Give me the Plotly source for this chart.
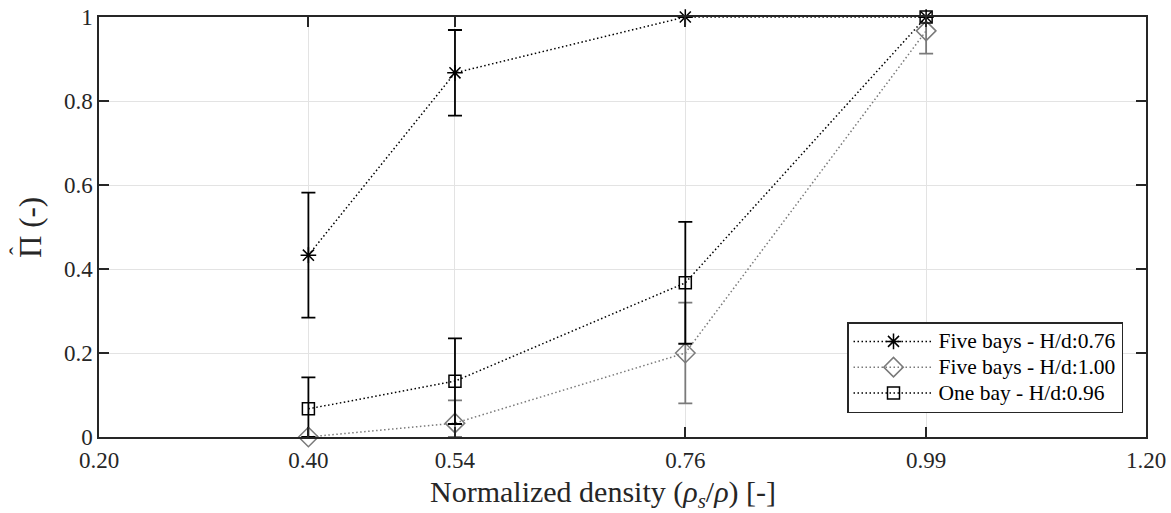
import plotly.graph_objects as go

# ---- data ----
density = [0.40, 0.54, 0.76, 0.99]

five_076 = [0.433, 0.867, 1.0, 1.0]
five_076_err = [0.149, 0.102, 0.0, 0.0]

five_100 = [0.0, 0.033, 0.2, 0.967]
five_100_err = [0.0, 0.054, 0.12, 0.054]

one_096 = [0.067, 0.133, 0.367, 1.0]
one_096_err = [0.075, 0.102, 0.145, 0.0]

x_tickvals = [0.20, 0.40, 0.54, 0.76, 0.99, 1.20]
x_ticktext = ["0.20", "0.40", "0.54", "0.76", "0.99", "1.20"]
y_tickvals = [0, 0.2, 0.4, 0.6, 0.8, 1]
y_ticktext = ["0", "0.2", "0.4", "0.6", "0.8", "1"]

names = ["Five bays - H/d:0.76", "Five bays - H/d:1.00", "One bay - H/d:0.96"]
x_title = "Normalized density (<i>ρ<sub>s</sub></i>/<i>ρ</i>) [-]"
y_title = "Π (-)"
y_title_hat = "ˆ"

FONT = "Liberation Serif"
DARK = "#262626"
GRAY = "#7a7a7a"

W, H = 1171, 513
ML, MR, MT, MB = 99, 25, 17, 76
PW = W - ML - MR
PH = H - MT - MB


def px(x):  # page pixel -> paper fraction
    return (x - ML) / PW


def py(y):
    return (MT + PH - y) / PH


def err_plus(vals, errs):
    return [None if e == 0 else min(e, 1.0 - v) for v, e in zip(vals, errs)]


def err_minus(vals, errs):
    return [None if e == 0 else min(e, v) for v, e in zip(vals, errs)]


fig = go.Figure()

series = [
    (five_076, five_076_err, names[0], "black", "asterisk-open", 13),
    (five_100, five_100_err, names[1], GRAY, "diamond-open", 15),
    (one_096, one_096_err, names[2], "black", "square-open", 12),
]

for vals, errs, name, col, sym, size in series:
    fig.add_trace(go.Scatter(
        x=density, y=vals, mode="lines+markers",
        name="<span style='font-size:21.5px'>%s</span>" % name,
        line=dict(color=col, width=1.5, dash="1.5px,2.5px"),
        marker=dict(symbol=sym, size=size, color=col,
                    line=dict(color=col, width=1.5)),
        error_y=dict(type="data", symmetric=False,
                     array=err_plus(vals, errs),
                     arrayminus=err_minus(vals, errs),
                     color=col, thickness=1.8, width=7),
        cliponaxis=False,
    ))

fig.update_layout(
    width=W, height=H,
    margin=dict(l=ML, r=MR, t=MT, b=MB, autoexpand=False),
    paper_bgcolor="white", plot_bgcolor="white",
    font=dict(family=FONT, color=DARK, size=23),
    showlegend=True,
    legend=dict(
        x=px(1123), y=py(413), xanchor="right", yanchor="bottom",
        bgcolor="white", bordercolor=DARK, borderwidth=1.5,
        font=dict(family=FONT, size=17.5, color="black"),
        tracegroupgap=0, itemwidth=80,
    ),
    annotations=[
        dict(text=x_title, xref="paper", yref="paper",
             x=px(603), y=py(494),
             xanchor="center", yanchor="middle", showarrow=False,
             font=dict(family=FONT, size=30, color=DARK)),
        dict(text=y_title, xref="paper", yref="paper",
             x=px(30), y=py(228), textangle=-90,
             xanchor="center", yanchor="middle", showarrow=False,
             font=dict(family=FONT, size=31, color=DARK)),
        dict(text=y_title_hat, xref="paper", yref="paper",
             x=px(18), y=py(251), textangle=-90,
             xanchor="center", yanchor="middle", showarrow=False,
             font=dict(family=FONT, size=24, color=DARK)),
    ],
)

common = dict(
    showgrid=True, gridcolor="#e3e3e3", gridwidth=1,
    showline=True, linecolor=DARK, linewidth=1.5, mirror="ticks",
    ticks="inside", ticklen=10, tickcolor=DARK, tickwidth=1.5,
    tickfont=dict(family=FONT, size=23, color=DARK),
    zeroline=False, automargin=False,
)
fig.update_xaxes(range=[0.2, 1.2], tickvals=x_tickvals, ticktext=x_ticktext,
                 ticklabelstandoff=2, **common)
fig.update_yaxes(range=[0, 1], tickvals=y_tickvals, ticktext=y_ticktext,
                 **common)

# remove the default page margin so the figure fills the window exactly
fig.write_html(
    "out.html",
    config={"displayModeBar": False},
    post_script="document.body.style.margin='0';"
                "document.body.style.overflow='hidden';",
)
